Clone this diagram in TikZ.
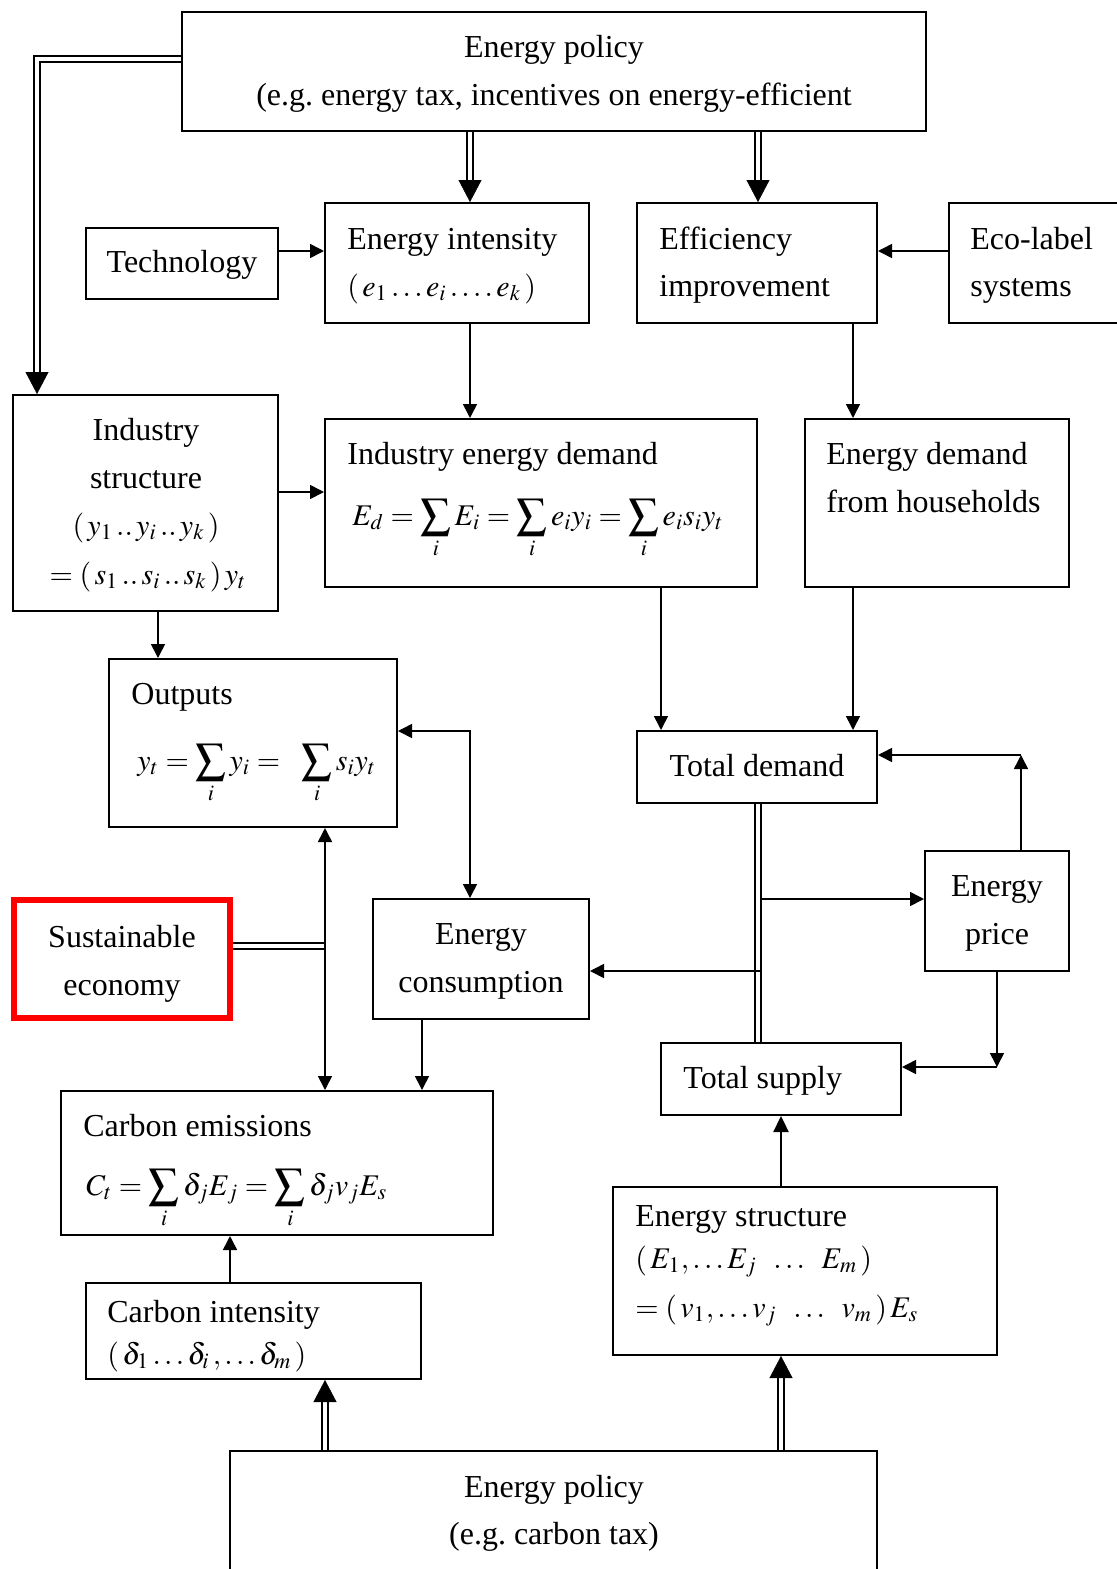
\documentclass[tikz,border=0pt]{standalone}
\usepackage{mathptmx}
\usepackage[no-math]{fontspec}
\setmainfont{Liberation Serif}
\usetikzlibrary{arrows.meta,fit}
\newcommand{\fsz}{\fontsize{16}{24}\selectfont}
\newcommand{\fszm}{\fontsize{15}{24}\selectfont}
\frenchspacing
\begin{document}
\begin{tikzpicture}[x=0.5pt,y=-0.5pt,
  box/.style={draw, line width=1pt, inner sep=0pt},
  redbox/.style={draw=red, line width=3pt, inner sep=0pt},
  txt/.style={inner sep=0pt, font=\fsz},
  mtxt/.style={inner sep=0pt, font=\fszm},
  arr/.style={line width=0.8pt, -{Triangle[length=7pt,width=7pt]}},
  arrtwo/.style={line width=0.8pt, {Triangle[length=7pt,width=7pt]}-{Triangle[length=7pt,width=7pt]}},
  thickarr/.style={line width=1.2pt, -{Triangle[length=8pt,width=7.5pt]}},
  dbl/.style={line width=0.95pt, double=white, double distance=1.8pt},
  dblshort/.style={dbl, shorten >=10pt},
  bigtip/.style={draw=white, line width=0.2pt, -{Triangle[length=11pt,width=11.5pt,color=black]}}
]
\useasboundingbox (0,0) rectangle (1117,1569);

% boxes
\node[box, fit={(182,12)(926,131)}] (ep) {};
\node[box, fit={(86,228)(278,299)}] (tech) {};
\node[box, fit={(325,203)(589,323)}] (ei) {};
\node[box, fit={(637,203)(877,323)}] (eff) {};
\node[box, fit={(949,203)(1130,323)}] (eco) {};
\node[box, fit={(13,395)(278,611)}] (ist) {};
\node[box, fit={(325,419)(757,587)}] (ied) {};
\node[box, fit={(805,419)(1069,587)}] (hh) {};
\node[box, fit={(109,659)(397,827)}] (out) {};
\node[box, fit={(637,731)(877,803)}] (td) {};
\node[box, fit={(925,851)(1069,971)}] (price) {};
\node[redbox, fit={(14,900)(230,1018)}] (se) {};
\node[box, fit={(373,899)(589,1019)}] (ec) {};
\node[box, fit={(661,1043)(901,1115)}] (ts) {};
\node[box, fit={(61,1091)(493,1235)}] (ce) {};
\node[box, fit={(613,1187)(997,1355)}] (es) {};
\node[box, fit={(86,1283)(421,1379)}] (ci) {};
\node[box, fit={(230,1451)(877,1590)}] (bp) {};

% texts
\node[txt, anchor=base] (ept1) at (554,57) {Energy policy};
\node[txt, anchor=base] (ept2) at (554,105) {(e.g. energy tax, incentives on energy-efficient};
\node[txt, anchor=base] (techt) at (182,272) {Technology};
\node[txt, anchor=base west] (eit1) at (347,249) {Energy intensity};
\node[mtxt, anchor=base west] (eit2) at (347,296) {$(\,e_1 \ldots e_i \ldots.\, e_k\,)$};
\node[txt, anchor=base west] (efft1) at (659,249) {Efficiency};
\node[txt, anchor=base west] (efft2) at (659,296) {improvement};
\node[txt, anchor=base west] (ecot1) at (970,249) {Eco-label};
\node[txt, anchor=base west] (ecot2) at (970,296) {systems};
\node[txt, anchor=base] (ist1) at (146,440) {Industry};
\node[txt, anchor=base] (ist2) at (146,488) {structure};
\node[mtxt, anchor=base] (ist3) at (146,535) {$(\,y_1 \mathinner{..} y_i \mathinner{..} y_k\,)$};
\node[mtxt, anchor=base] (ist4) at (148,584) {$=(\,s_1 \mathinner{..} s_i \mathinner{..} s_k\,)\,y_t$};
\node[txt, anchor=base west] (iedt1) at (347,464) {Industry energy demand};
\node[mtxt, anchor=base west] (iedt2) at (352,525) {$\displaystyle E_d = \sum_i E_i = \sum_i e_i y_i = \sum_i e_i s_i y_t$};
\node[txt, anchor=base west] (hht1) at (826,464) {Energy demand};
\node[txt, anchor=base west] (hht2) at (826,512) {from households};
\node[txt, anchor=base west] (outt1) at (131,704) {Outputs};
\node[mtxt, anchor=base west] (outt2) at (137,770) {$\displaystyle y_t = \sum_i y_i = \ \ \sum_i s_i y_t$};
\node[txt, anchor=base] (tdt) at (757,776) {Total demand};
\node[txt, anchor=base] (pricet1) at (997,896) {Energy};
\node[txt, anchor=base] (pricet2) at (997,944) {price};
\node[txt, anchor=base] (set1) at (122,947) {Sustainable};
\node[txt, anchor=base] (set2) at (122,995) {economy};
\node[txt, anchor=base] (ect1) at (481,944) {Energy};
\node[txt, anchor=base] (ect2) at (481,992) {consumption};
\node[txt, anchor=base west] (tst) at (683,1088) {Total supply};
\node[txt, anchor=base west] (cet1) at (83,1136) {Carbon emissions};
\node[mtxt, anchor=base west] (cet2) at (86,1195) {$\displaystyle C_t = \sum_i \delta_j E_j = \sum_i \delta_j v_j E_s$};
\node[txt, anchor=base west] (est1) at (635,1226) {Energy structure};
\node[mtxt, anchor=base west] (est2) at (635,1268) {$(\,E_1, \ldots E_j \;\; \ldots \;\; E_m\,)$};
\node[mtxt, anchor=base west] (est3) at (635,1317) {$=(\,v_1, \ldots v_j \;\; \ldots \;\; v_m\,)\,E_s$};
\node[txt, anchor=base west] (cit1) at (107,1322) {Carbon intensity};
\node[mtxt, anchor=base west] (cit2) at (107,1364) {$(\,\delta_1 \ldots \delta_i\,, \ldots \delta_m\,)$};
\node[txt, anchor=base] (bpt1) at (554,1497) {Energy policy};
\node[txt, anchor=base] (bpt2) at (554,1544) {(e.g. carbon tax)};

% double arrows
\draw[dblshort] (ep.west |- 0,59) -| (ist.north -| 37,0);
\draw[bigtip] (ep.west |- 0,59) -| (ist.north -| 37,0);
\draw[dblshort] (ep.south -| 470,0) -- (ei.north -| 470,0);
\draw[bigtip] (ep.south -| 470,0) -- (ei.north -| 470,0);
\draw[dblshort] (ep.south -| 758,0) -- (eff.north -| 758,0);
\draw[bigtip] (ep.south -| 758,0) -- (eff.north -| 758,0);
\draw[dblshort] (bp.north -| 325,0) -- (ci.south -| 325,0);
\draw[bigtip] (bp.north -| 325,0) -- (ci.south -| 325,0);
\draw[dblshort] (bp.north -| 781,0) -- (es.south -| 781,0);
\draw[bigtip] (bp.north -| 781,0) -- (es.south -| 781,0);
\draw[dbl] (td.south -| 758,0) -- (ts.north -| 758,0);
\draw[dbl] (se.east |- 0,946) -- (325,946);

% single arrows
\draw[arr] (tech.east |- 0,251) -- (ei.west |- 0,251);
\draw[arr] (eco.west |- 0,251) -- (eff.east |- 0,251);
\draw[arr] (ei.south -| 470,0) -- (ied.north -| 470,0);
\draw[arr] (eff.south -| 853,0) -- (hh.north -| 853,0);
\draw[arr] (ist.east |- 0,492) -- (ied.west |- 0,492);
\draw[arr] (ist.south -| 158,0) -- (out.north -| 158,0);
\draw[arr] (ied.south -| 661,0) -- (td.north -| 661,0);
\draw[arr] (hh.south -| 853,0) -- (td.north -| 853,0);
\coordinate (c1) at (1021,755);
\draw[arr] (price.north -| c1) -- (c1);
\draw[arr] (c1) -- (td.east |- c1);
\coordinate (c3) at (761,899);
\draw[arr] (c3) -- (price.west |- c3);
\coordinate (c4) at (761,971);
\draw[arr] (c4) -- (ec.east |- c4);
\coordinate (c2) at (997,1067);
\draw[arr] (price.south -| c2) -- (c2);
\draw[arr] (c2) -- (ts.east |- c2);
\draw[thickarr] (es.north -| 781,0) -- (ts.south -| 781,0);
\draw[arrtwo] (out.east |- 0,731) -| (ec.north -| 470,0);
\draw[arrtwo] (out.south -| 325,0) -- (ce.north -| 325,0);
\draw[arr] (ec.south -| 422,0) -- (ce.north -| 422,0);
\draw[arr] (ci.north -| 230,0) -- (ce.south -| 230,0);
\end{tikzpicture}
\end{document}
